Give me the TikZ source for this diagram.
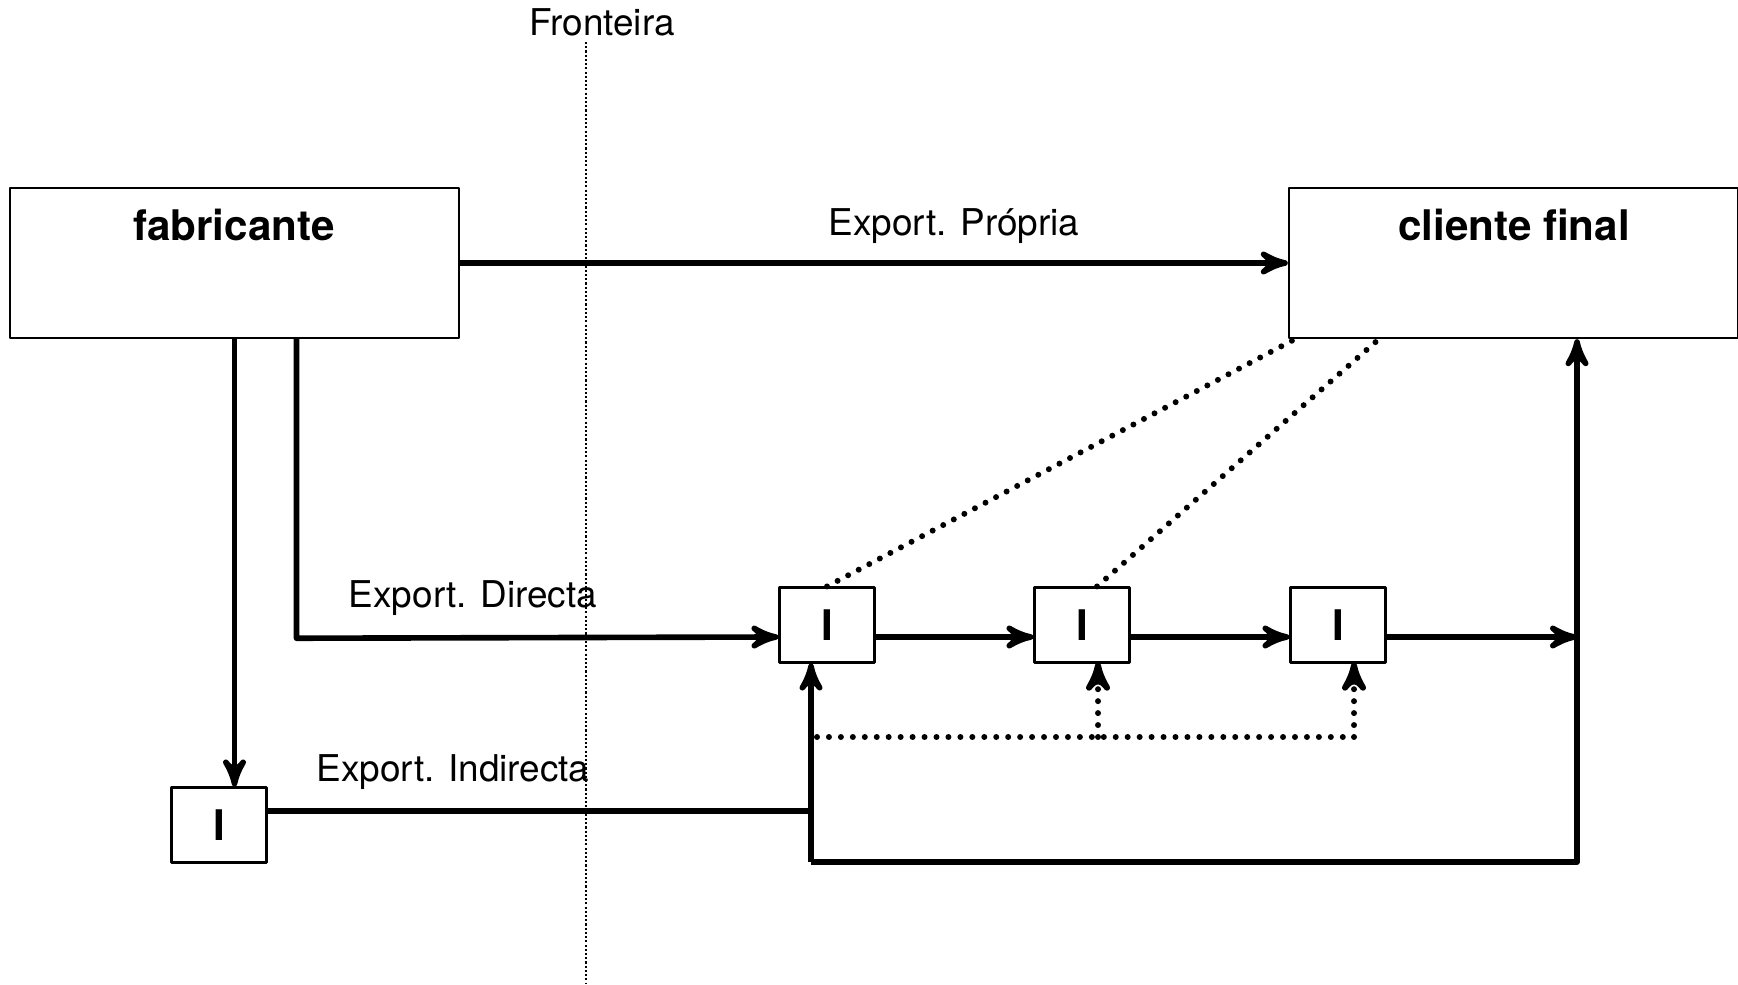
\documentclass[tikz,border=0pt]{standalone}
\usepackage{fontspec}
\setmainfont{TeX Gyre Heros}
\usepackage{tikz}
\usetikzlibrary{arrows}
\usetikzlibrary{calc}

\tikzset{
  bigbox/.style={draw, line width=0.7pt, minimum width=4.49cm, minimum height=1.5cm, inner sep=0pt},
  ibox/.style={draw, line width=0.6pt, minimum width=0.95cm, minimum height=0.75cm, inner sep=0pt, font=\fontsize{12}{14}\selectfont\bfseries},
  flow/.style={line width=1.6pt},
  dotline/.style={line width=1.7pt, dash pattern=on 0pt off 3.4pt, line cap=round},
  lbl/.style={font=\fontsize{10.5}{12}\selectfont}
}

\begin{document}
\begin{tikzpicture}[line join=round,>=stealth',x=1cm,y=1cm]
\useasboundingbox (0,0) rectangle (17.38,9.84);
% fronteira
\draw [line width=0.35pt, dash pattern=on 0.6pt off 0.6pt] (5.86,9.42)-- (5.86,0);
\node[lbl] (front) at (6.02,9.62) {Fronteira};
% caixas
\node[bigbox] (fab) at (2.345,7.21) {};
\node[bigbox] (cli) at (15.135,7.21) {};
\node[font=\fontsize{12}{14}\selectfont\bfseries] (fabt) at (2.34,7.59) {fabricante};
\node[font=\fontsize{12}{14}\selectfont\bfseries] (clit) at (15.14,7.59) {cliente final};
\node[ibox] (i0) at (2.19,1.59) {I};
\node[ibox] (i1) at (8.27,3.59) {I};
\node[ibox] (i2) at (10.82,3.59) {I};
\node[ibox] (i3) at (13.38,3.59) {I};
\coordinate (jr) at (15.77,3.47);
\coordinate (jl) at (8.11,1.22);
\coordinate (jb) at (15.77,1.22);
% export. propria
\draw [flow,->] (fab.east)-- (cli.west);
\node[lbl] (lprop) at (9.54,7.575) {Export. Própria};
% export. directa
\draw [flow,->] ([xshift=0.62cm]fab.south)-- ($(fab.south)+(0.62,-2.99)$)-- ([yshift=-0.12cm]i1.west);
\node[lbl] (ldir) at (4.73,3.855) {Export. Directa};
\draw [flow,->] ([yshift=-0.12cm]i1.east)-- ([yshift=-0.12cm]i2.west);
\draw [flow,->] ([yshift=-0.12cm]i2.east)-- ([yshift=-0.12cm]i3.west);
\draw [flow,->] ([yshift=-0.12cm]i3.east)-- (jr);
% export. indirecta
\draw [flow,->] (fab.south)-- (fab.south |- i0.north);
\draw [flow] ([yshift=0.14cm]i0.east)-- (jl |- 0,1.73);
\node[lbl] (lind) at (4.53,2.115) {Export. Indirecta};
\draw [flow,->] (jl)-- (jl |- i1.south);
\draw [flow,->] (jl)-- (jb)-- (jb |- cli.south);
% ligacoes pontilhadas
\draw [dotline] (i1.north)-- ([xshift=0.07cm]cli.south west);
\draw [dotline] ([xshift=0.15cm]i2.north)-- ([xshift=0.91cm]cli.south west);
\draw [dotline] (8.17,2.47)-- (13.54,2.47);
\draw [dotline,->] (10.98,2.47)-- (10.98,3.215);
\draw [dotline,->] (13.54,2.47)-- (13.54,3.215);
\end{tikzpicture}
\end{document}
